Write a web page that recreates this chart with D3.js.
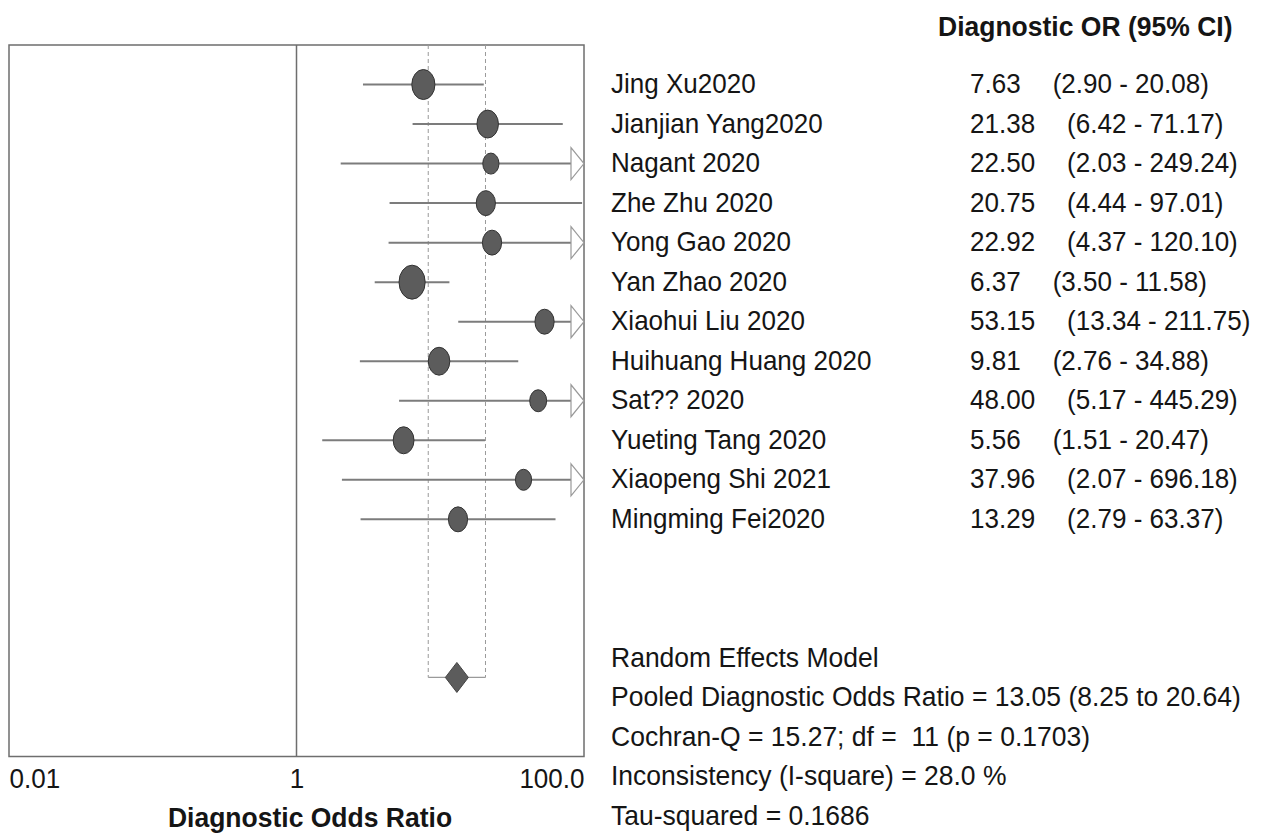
<!DOCTYPE html>
<html>
<head>
<meta charset="utf-8">
<script src="https://cdn.jsdelivr.net/npm/d3@7"></script>
<style>
  body { margin: 0; background: #fff; }
  text { font-family: 'Liberation Sans', Arial, sans-serif; fill: #151515; white-space: pre; }
</style>
</head>
<body>
<svg id="forest" width="1273" height="836"></svg>
<script>
// study data
const studies = ["Jing Xu2020", "Jianjian Yang2020", "Nagant 2020", "Zhe Zhu 2020", "Yong Gao 2020", "Yan Zhao 2020",
  "Xiaohui Liu 2020", "Huihuang Huang 2020", "Sat?? 2020", "Yueting Tang 2020", "Xiaopeng Shi 2021", "Mingming Fei2020"];
const dor = [7.63, 21.38, 22.50, 20.75, 22.92, 6.37, 53.15, 9.81, 48.00, 5.56, 37.96, 13.29];
const lower = [2.90, 6.42, 2.03, 4.44, 4.37, 3.50, 13.34, 2.76, 5.17, 1.51, 2.07, 2.79];
const upper = [20.08, 71.17, 249.24, 97.01, 120.10, 11.58, 211.75, 34.88, 445.29, 20.47, 696.18, 63.37];
const weights = [11.0, 9.5, 5.4, 7.6, 7.6, 14.1, 7.6, 9.5, 5.9, 8.9, 5.4, 7.6];
const pooled = [13.05, 8.25, 20.64];
const summaryLines = ["Random Effects Model",
  "Pooled Diagnostic Odds Ratio = 13.05 (8.25 to 20.64)",
  "Cochran-Q = 15.27; df =  11 (p = 0.1703)",
  "Inconsistency (I-square) = 28.0 %",
  "Tau-squared = 0.1686"];
const tickValues = [0.01, 1, 100];
const tickLabels = ["0.01", "1", "100.0"];

const svg = d3.select("#forest");
const plotL = 9, plotR = 584, plotT = 45, plotB = 756.5;
const x = d3.scaleLog().domain([0.01, 100]).range([plotL, plotR]);
const y = d3.scaleLinear().domain([-1, 17]).range([plotT, plotB]);
const size = d3.scaleSqrt().domain([0, 14.1]).range([0, 17]);
const lineCol = "#7c7c7c";
const squeeze = 0.93; // text in the source is slightly condensed

function label(px, py, str, fs, bold, anchor) {
  return svg.append("text")
    .attr("transform", `translate(${px},${py}) scale(${squeeze},1)`)
    .attr("font-size", fs).attr("font-weight", bold ? "bold" : null)
    .attr("text-anchor", anchor || "start").text(str);
}

// frame
svg.append("rect").attr("x", plotL).attr("y", plotT).attr("width", plotR - plotL).attr("height", plotB - plotT)
  .attr("fill", "none").attr("stroke", "#6e6e6e").attr("stroke-width", 1.5);
svg.append("line").attr("x1", x(1)).attr("x2", x(1)).attr("y1", plotT).attr("y2", plotB)
  .attr("stroke", "#6e6e6e").attr("stroke-width", 1.5);

// pooled CI dashed lines
const yp = y(15);
[pooled[1], pooled[2]].forEach(v => {
  svg.append("line").attr("x1", x(v)).attr("x2", x(v)).attr("y1", plotT).attr("y2", yp)
    .attr("stroke", "#9a9a9a").attr("stroke-width", 1).attr("stroke-dasharray", "4,3");
});
svg.append("line").attr("x1", x(pooled[1])).attr("x2", x(pooled[2])).attr("y1", yp).attr("y2", yp)
  .attr("stroke", "#9a9a9a").attr("stroke-width", 1.2);

// study CI lines, arrows and markers
const arrowW = 13, arrowH = 16;
studies.forEach((s, i) => {
  const yy = y(i);
  const clipped = upper[i] > 100;
  const x2 = clipped ? plotR - arrowW : x(upper[i]);
  svg.append("line").attr("x1", x(lower[i])).attr("x2", x2).attr("y1", yy).attr("y2", yy)
    .attr("stroke", lineCol).attr("stroke-width", 2);
  if (clipped) {
    svg.append("path")
      .attr("d", `M${plotR - arrowW},${yy - arrowH}L${plotR},${yy}L${plotR - arrowW},${yy + arrowH}Z`)
      .attr("fill", "#fff").attr("stroke", "#999").attr("stroke-width", 1.2);
  }
  const ry = size(weights[i]);
  svg.append("ellipse").attr("cx", x(dor[i])).attr("cy", yy).attr("rx", ry * 0.77).attr("ry", ry)
    .attr("fill", "#5c5c5c").attr("stroke", "#333").attr("stroke-width", 1);
});

// pooled diamond
const dx = x(pooled[0]);
svg.append("path").attr("d", `M${dx - 11.5},${yp}L${dx},${yp - 15}L${dx + 11.5},${yp}L${dx},${yp + 15}Z`)
  .attr("fill", "#5c5c5c").attr("stroke", "#444").attr("stroke-width", 1);

// x axis
const axis = svg.append("g").attr("transform", `translate(0,${plotB})`)
  .call(d3.axisBottom(x).tickValues(tickValues).tickSize(0).tickPadding(0).tickFormat((d, i) => tickLabels[i]));
axis.select(".domain").remove();
axis.attr("font-family", null).attr("font-size", null);
axis.selectAll("text").attr("font-size", 28).attr("y", 31.5).attr("dy", 0)
  .attr("transform", `scale(${squeeze},1)`).attr("fill", "#151515")
  .attr("text-anchor", (d, i) => i === 0 ? "start" : i === tickValues.length - 1 ? "end" : "middle");
label(310, 826.5, "Diagnostic Odds Ratio", 28.5, true, "middle");

// right-hand table
const nameX = 611, orX = 970;
label(938, 36, "Diagnostic OR (95% CI)", 28.5, true);
studies.forEach((s, i) => {
  const yy = y(i) + 8.5;
  label(nameX, yy, s, 28);
  const t = label(orX, yy, dor[i].toFixed(2), 28);
  const w = t.node().getComputedTextLength() * squeeze;
  label(orX + w + 32, yy, `(${lower[i].toFixed(2)} - ${upper[i].toFixed(2)})`, 28);
});
summaryLines.forEach((s, i) => {
  label(nameX, y(14.5 + i) + 9, s, 28.5);
});
</script>
</body>
</html>
